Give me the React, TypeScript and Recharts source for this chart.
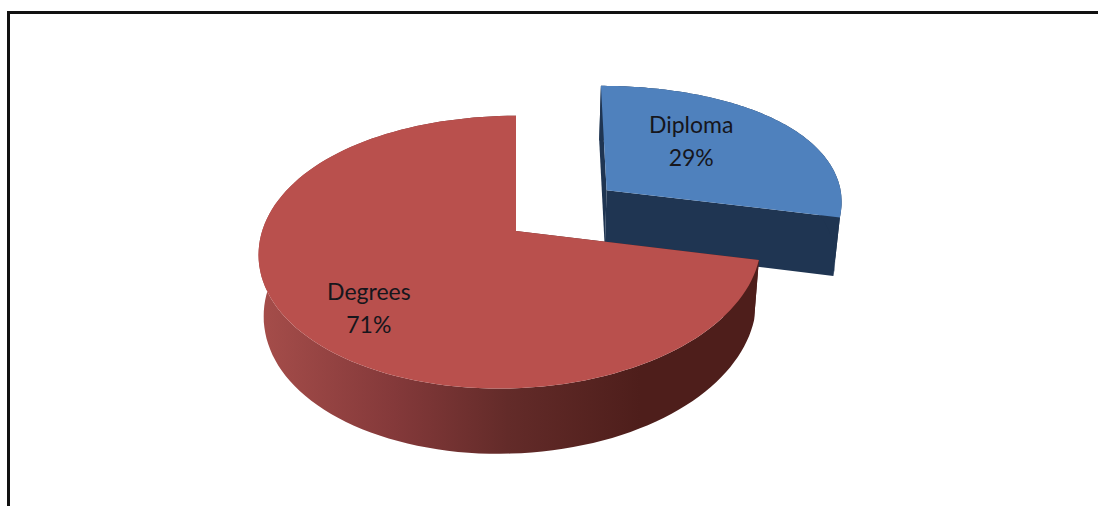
import { Pie, PieChart } from "recharts";

const SHARE_NAMES = ["Diploma", "Degrees"];
const SHARE_VALUES = [29, 71];
const EXPLODE = [0.48, 0];
const TOP_COLORS = ["#4f81bd", "#b9504d"];
const SIDE_COLORS = ["#1f3552", "url(#redSide)"];
const LABEL_SPOTS = [
  { dx: -25, dy: -15 },
  { dx: -17, dy: 12 },
];

const shares = SHARE_NAMES.map((name, i) => ({ name, value: SHARE_VALUES[i] }));

// fake 3d: the pie disc is tilted with a small homography
const DEPTH = 60;
const SHRINK = 0.98;
const RAD = Math.PI / 180;

function project(u: number, v: number) {
  const w = 1 - 0.154 * v + 0.03 * u;
  // far side keeps more of its width than a true perspective would
  const wx = w > 0.9 ? w - 1.17 * (w - 0.9) * (w - 0.9) : w;
  return { x: (246 * u) / wx, y: (133 * v - 4.4 * u) / w, w };
}

function topPoint(cx: number, cy: number, u: number, v: number) {
  const p = project(u, v);
  return [cx + p.x, cy + p.y];
}

function lowPoint(cx: number, cy: number, u: number, v: number) {
  const p = project(u, v);
  return [cx + p.x * SHRINK, cy + p.y + DEPTH / Math.sqrt(p.w)];
}

function toPath(points: number[][]) {
  return "M" + points.map((p) => `${p[0].toFixed(1)},${p[1].toFixed(1)}`).join("L") + "Z";
}

function SliceShape(props: any) {
  const { cx, cy, startAngle, endAngle, midAngle, name } = props;
  const i = SHARE_NAMES.indexOf(name);
  const ou = EXPLODE[i] * Math.cos(midAngle * RAD);
  const ov = -1.06 * EXPLODE[i] * Math.sin(midAngle * RAD);

  const rim: number[][] = [];
  const steps = 120;
  for (let s = 0; s <= steps; s++) {
    const a = (startAngle + ((endAngle - startAngle) * s) / steps) * RAD;
    rim.push([ou + Math.cos(a), ov - Math.sin(a)]);
  }
  const first = rim[0];
  const last = rim[rim.length - 1];
  const top = rim.map((p) => topPoint(cx, cy, p[0], p[1]));
  const low = rim.map((p) => lowPoint(cx, cy, p[0], p[1]));
  const apexTop = topPoint(cx, cy, ou, ov);
  const apexLow = lowPoint(cx, cy, ou, ov);

  const wallA = [apexTop, topPoint(cx, cy, first[0], first[1]), lowPoint(cx, cy, first[0], first[1]), apexLow];
  const wallB = [apexTop, topPoint(cx, cy, last[0], last[1]), lowPoint(cx, cy, last[0], last[1]), apexLow];

  return (
    <g>
      <path d={toPath(wallA)} fill={SIDE_COLORS[i]} />
      <path d={toPath(wallB)} fill={SIDE_COLORS[i]} />
      <path d={toPath([...top, ...[...low].reverse()])} fill={SIDE_COLORS[i]} />
      <path d={toPath([apexTop, ...top])} fill={TOP_COLORS[i]} />
    </g>
  );
}

function SliceLabel(props: any) {
  const { cx, cy, midAngle, name, value } = props;
  const i = SHARE_NAMES.indexOf(name);
  const f = 0.62 + EXPLODE[i];
  const p = project(f * Math.cos(midAngle * RAD), -f * Math.sin(midAngle * RAD));
  const x = cx + p.x + LABEL_SPOTS[i].dx;
  const y = cy + p.y + LABEL_SPOTS[i].dy;
  return (
    <text x={x} y={y} textAnchor="middle" fontFamily="Lato" fontSize={23} fill="#16161c">
      <tspan x={x} dy={0}>{name}</tspan>
      <tspan x={x} dy={33}>{value}%</tspan>
    </text>
  );
}

export default function App() {
  return (
    <div style={{ position: "absolute", left: 0, top: 0, width: 1098, height: 506, background: "#fff", overflow: "hidden" }}>
      <div style={{ position: "absolute", left: 7, top: 11, width: 1200, height: 600, borderTop: "3px solid #111", borderLeft: "3px solid #111" }} />
      <div style={{ position: "absolute", left: 0, top: 0 }}>
        <PieChart width={1098} height={506} margin={{ top: 0, right: 0, bottom: 0, left: 0 }}>
          <defs>
            <linearGradient id="redSide" gradientUnits="userSpaceOnUse" x1="262" y1="0" x2="640" y2="0">
              <stop offset="0%" stopColor="#a54d4a" />
              <stop offset="35%" stopColor="#84393a" />
              <stop offset="65%" stopColor="#632b29" />
              <stop offset="100%" stopColor="#4e1e1b" />
            </linearGradient>
          </defs>
          <Pie
            data={shares}
            dataKey="value"
            nameKey="name"
            cx={516}
            cy={231}
            outerRadius={100}
            startAngle={90}
            endAngle={-270}
            stroke="none"
            shape={SliceShape}
            inactiveShape={SliceShape}
            label={SliceLabel}
            labelLine={false}
            isAnimationActive={false}
          />
        </PieChart>
      </div>
    </div>
  );
}
